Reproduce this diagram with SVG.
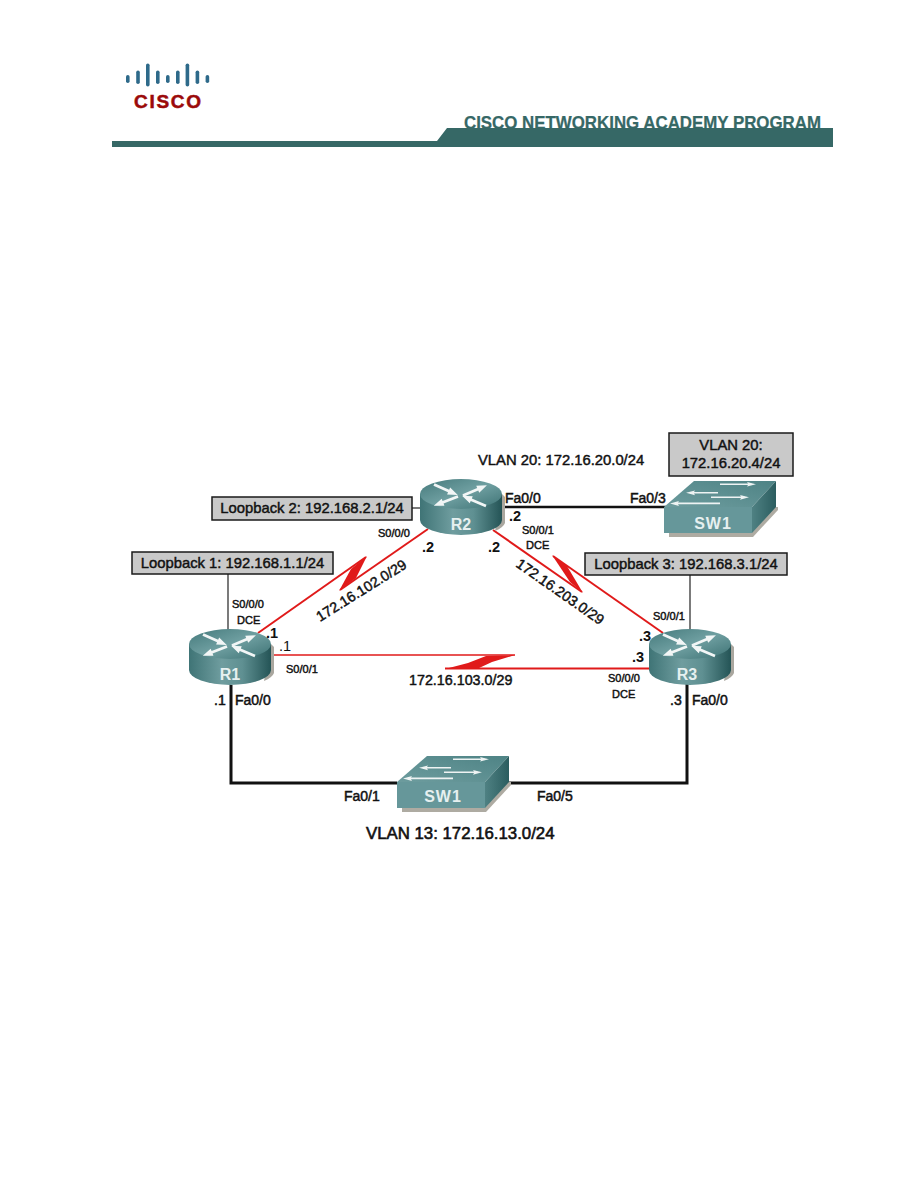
<svg xmlns="http://www.w3.org/2000/svg" width="918" height="1188" viewBox="0 0 918 1188">
  <style>
    text { font-family: "Liberation Sans", Arial, sans-serif; fill: #111; }
    .b { font-weight: bold; }
    .s { font-size: 11px; stroke: #111; stroke-width: 0.45; }
    .m { font-size: 14px; stroke: #111; stroke-width: 0.5; }
    .n { font-size: 14.5px; }
    .ip { font-size: 14.3px; stroke: #111; stroke-width: 0.45; }
    .lb { font-size: 14.8px; stroke: #111; stroke-width: 0.45; }
    .name { font-weight: bold; font-size: 16px; fill: #e6f0f0; text-anchor: middle; }
    .box { fill: #c9c9c9; stroke: #1a1a1a; stroke-width: 1.5; }
    .red { fill: none; stroke: #e01a1a; stroke-width: 2; }
    .eth { fill: none; stroke: #111; stroke-width: 3; }
    .thin { fill: none; stroke: #222; stroke-width: 1.2; }
    .bolt { fill: #e01a1a; }
    .bar { fill: #2e6a8a; }
  </style>
  <defs>
    <linearGradient id="side" x1="0" x2="1" y1="0" y2="0">
      <stop offset="0" stop-color="#3f7476"/>
      <stop offset="0.4" stop-color="#6f9d9f"/>
      <stop offset="0.65" stop-color="#5f9092"/>
      <stop offset="1" stop-color="#245456"/>
    </linearGradient>
    <linearGradient id="top" x1="0" x2="1" y1="0" y2="1">
      <stop offset="0" stop-color="#44797b"/>
      <stop offset="0.5" stop-color="#6f9fa1"/>
      <stop offset="1" stop-color="#3d7274"/>
    </linearGradient>
    <linearGradient id="swtop" x1="0" x2="1" y1="1" y2="0">
      <stop offset="0" stop-color="#6d9c9e"/>
      <stop offset="1" stop-color="#4e8385"/>
    </linearGradient>
    <linearGradient id="swside" x1="0" x2="1" y1="0" y2="0">
      <stop offset="0" stop-color="#4f8183"/>
      <stop offset="1" stop-color="#2b5d5f"/>
    </linearGradient>
    <path id="arrow" d="M0 -1.4 H16 V-3.8 L26 0 L16 3.8 V1.4 H0 z" fill="#f2f6f6"/>
    <g id="router">
      <!-- cylinder centred on x=0, top edge at y=0 -->
      <path d="M41 15 l3 3 v26 a41 15 0 0 1 -10 8 z" fill="#aaa79f"/>
      <path d="M-41 15 v26 a41 15 0 0 0 82 0 v-26 z" fill="url(#side)"/>
      <ellipse cx="0" cy="15" rx="41" ry="15" fill="url(#top)"/>
      <use href="#arrow" transform="translate(-27,5.5) rotate(24)"/>
      <use href="#arrow" transform="translate(2,16.5) rotate(-23)"/>
      <use href="#arrow" transform="translate(-3,17.5) rotate(159)"/>
      <use href="#arrow" transform="translate(25,27) rotate(203)"/>
    </g>
    <g id="switch">
      <!-- box with front-left corner at origin -->
      <path d="M5 26 v4 h84 l25 -27 v-3 h-4 z" fill="#aeaba2"/>
      <path d="M0 0 L30 -26 H112 L88 0 z" fill="url(#swtop)"/>
      <path d="M88 0 L112 -26 V0 L88 26 z" fill="url(#swside)"/>
      <rect x="0" y="0" width="88" height="26" fill="#66979a"/>
      <path d="M56 -23.5 h28 l-1 -1.5 l9 2.2 l-9 2.2 l1 -1.5 h-28 z M30 -15 h24 v1.6 h-24 l1 1.6 l-9 -2.4 l9 -2.4 z M47 -10.5 h30 l-1 -1.6 l9 2.4 l-9 2.4 l1 -1.6 h-30 z M14 -4.5 h42 v1.8 h-42 l1 1.6 l-9 -2.5 l9 -2.5 z" fill="#eef3f3"/>
    </g>
  </defs>

  <g id="logo">
    <rect class="bar" x="126" y="75" width="3.6" height="8" rx="1.8"/>
    <rect class="bar" x="136.2" y="70.5" width="3.6" height="13.5" rx="1.8"/>
    <rect class="bar" x="146" y="63.5" width="3.6" height="23" rx="1.8"/>
    <rect class="bar" x="156" y="70.5" width="3.6" height="13.5" rx="1.8"/>
    <rect class="bar" x="166" y="75" width="3.6" height="8" rx="1.8"/>
    <rect class="bar" x="176" y="70.5" width="3.6" height="13.5" rx="1.8"/>
    <rect class="bar" x="185.6" y="63.5" width="3.6" height="23" rx="1.8"/>
    <rect class="bar" x="195.6" y="70.5" width="3.6" height="13.5" rx="1.8"/>
    <rect class="bar" x="205.6" y="75" width="3.6" height="8" rx="1.8"/>
    <text x="134" y="108" font-size="19" class="b" style="fill:#9b0a0a;stroke:#9b0a0a;stroke-width:.5" textLength="67" lengthAdjust="spacing">CISCO</text>
  </g>

  <g id="header">
    <path d="M112 141 H437 L447 128 H833 V147 H112 z" fill="#366866"/>
    <text x="464" y="128.5" font-size="18.5" class="b" style="fill:#366866;stroke:#366866;stroke-width:.25" textLength="357" lengthAdjust="spacingAndGlyphs">CISCO NETWORKING ACADEMY PROGRAM</text>
  </g>

  <g id="connectors">
    <path class="eth" d="M231 685 V783 H397"/>
    <path class="eth" d="M508 783 H687 V683"/>
    <path class="eth" style="stroke-width:2.5" d="M500 507 H666"/>
    <path class="thin" d="M228 574 V630"/>
    <path class="thin" d="M690 575 V630"/>
    <path class="thin" d="M412 508 H421"/>
    <path class="red" d="M258 633 L366 557"/>
    <path class="red" d="M340 590 L428 529"/>
    <polygon class="bolt" points="367,556 356,578 339,591 351,569"/>
    <path class="red" d="M493 530 L582 592"/>
    <path class="red" d="M553 556 L663 633"/>
    <polygon class="bolt" points="552,555 567,566 583,593 570,582"/>
    <path class="red" style="stroke-width:1.5" d="M272 655 H515"/>
    <path class="red" d="M445 668.5 H650"/>
    <polygon class="bolt" points="515,655 486,656 468,663 445,669 478,668.5 492,662"/>
  </g>

  <g id="R1">
    <use href="#router" x="230" y="629"/>
    <text class="name" x="230" y="680">R1</text>
  </g>
  <g id="R2">
    <use href="#router" x="461" y="479"/>
    <text class="name" x="461" y="530">R2</text>
  </g>
  <g id="R3">
    <use href="#router" x="690" y="629"/>
    <text class="name" x="687" y="680">R3</text>
  </g>
  <g id="SW1-top">
    <use href="#switch" x="664" y="507"/>
    <text class="name" x="713" y="529" style="letter-spacing:1px">SW1</text>
  </g>
  <g id="SW1-bottom">
    <use href="#switch" x="397" y="782"/>
    <text class="name" x="443" y="802" style="letter-spacing:1px">SW1</text>
  </g>

  <g id="loopback-1">
    <rect class="box" x="132" y="552" width="201" height="22"/>
    <text class="lb" x="232.5" y="568" text-anchor="middle">Loopback 1: 192.168.1.1/24</text>
  </g>
  <g id="loopback-2">
    <rect class="box" x="212" y="497" width="200" height="23"/>
    <text class="lb" x="312" y="513" text-anchor="middle">Loopback 2: 192.168.2.1/24</text>
  </g>
  <g id="loopback-3">
    <rect class="box" x="585" y="553" width="202" height="22"/>
    <text class="lb" x="686" y="569" text-anchor="middle">Loopback 3: 192.168.3.1/24</text>
  </g>
  <g id="vlan20-box">
    <rect class="box" x="669" y="433" width="124" height="43"/>
    <text class="lb" x="731" y="450" text-anchor="middle">VLAN 20:</text>
    <text class="lb" x="731" y="468" text-anchor="middle">172.16.20.4/24</text>
  </g>

  <g id="labels">
    <text class="lb" x="478" y="465">VLAN 20: 172.16.20.0/24</text>
    <text class="m" x="505" y="503">Fa0/0</text>
    <text class="m" x="630" y="503">Fa0/3</text>
    <text class="n b" x="509" y="521">.2</text>
    <text class="s" x="378" y="537">S0/0/0</text>
    <text class="s" x="522" y="534">S0/0/1</text>
    <text class="s" x="526" y="549">DCE</text>
    <text class="n b" x="422" y="552">.2</text>
    <text class="n b" x="488" y="552">.2</text>
    <text class="ip" transform="translate(320,622) rotate(-32)">172.16.102.0/29</text>
    <text class="ip" transform="translate(515,566) rotate(35)">172.16.203.0/29</text>
    <text class="ip" x="409" y="685">172.16.103.0/29</text>
    <text class="s" x="232" y="608">S0/0/0</text>
    <text class="s" x="237" y="624">DCE</text>
    <text class="n b" x="266" y="638">.1</text>
    <text class="n" x="279" y="651">.1</text>
    <text class="s" x="286" y="673">S0/0/1</text>
    <text class="m" x="214" y="705">.1</text>
    <text class="m" x="235" y="705">Fa0/0</text>
    <text class="s" x="653" y="620">S0/0/1</text>
    <text class="n b" x="639" y="641">.3</text>
    <text class="n b" x="632" y="662">.3</text>
    <text class="s" x="608" y="682">S0/0/0</text>
    <text class="s" x="612" y="698">DCE</text>
    <text class="m" x="670" y="705">.3</text>
    <text class="m" x="692" y="705">Fa0/0</text>
    <text class="m" x="344" y="801">Fa0/1</text>
    <text class="m" x="537" y="801">Fa0/5</text>
    <text x="366" y="839" font-size="16.8" style="stroke:#111;stroke-width:.6">VLAN 13: 172.16.13.0/24</text>
  </g>
</svg>
